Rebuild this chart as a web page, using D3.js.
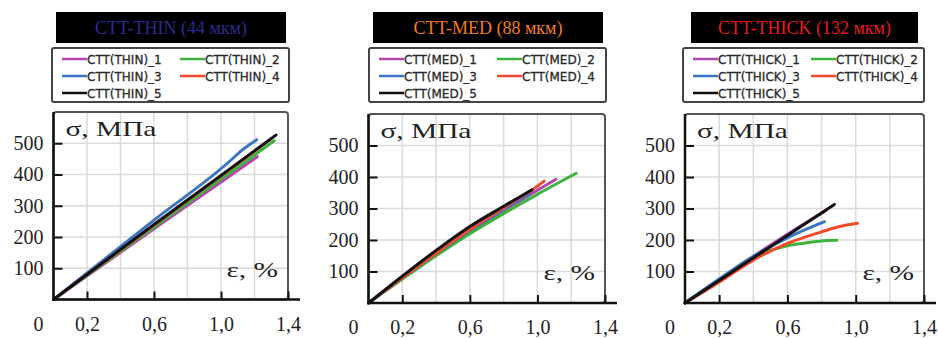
<!DOCTYPE html>
<html>
<head>
<meta charset="utf-8">
<script src="https://cdn.jsdelivr.net/npm/d3@7"></script>
<style>
  body { margin: 0; background: #fff; }
  svg { display: block; }
</style>
</head>
<body>
<div id="chart"></div>
<script>
// --- data (strain %, stress MPa) ---
const panelKeys   = ['THIN', 'MED', 'THICK'];
const panelTitles = ['CTT-THIN (44 мкм)', 'CTT-MED (88 мкм)', 'CTT-THICK (132 мкм)'];
const titleColors = ['#2b2b8f', '#f07b22', '#e8191c'];
const seriesColors = ['#b347b0', '#3cb43c', '#3a75c4', '#f24a2c', '#111111'];
const xTicks = [0.2, 0.6, 1.0, 1.4];
const yTicks = [100, 200, 300, 400, 500];
const xGrid = [0.2, 0.4, 0.6, 0.8, 1.0, 1.2];
const yGrid = [100, 200, 300, 400, 500];
const xDomain = [0, 1.4];
const yDomain = [0, 600];

const thinCurves = [
  [[0,0],[0.6,226],[1.217,457]],
  [[0,0],[0.6,232],[1.318,508]],
  [[0,0],[0.6,254],[1.08,456],[1.1,466],[1.213,511]],
  [[0,0],[0.6,238],[1.30,514]],
  [[0,0],[0.6,240],[1.328,526]]
];
const medCurves = [
  [[0,0],[0.2,78],[0.4,154],[0.6,226],[0.8,293],[1.0,358],[1.11,393]],
  [[0,0],[0.2,76],[0.4,150],[0.6,220],[0.8,284],[1.0,345],[1.23,412]],
  [[0,0],[0.2,80],[0.4,157],[0.6,230],[0.8,297],[0.95,345]],
  [[0,0],[0.2,80],[0.4,158],[0.6,233],[0.8,302],[0.95,352],[1.04,387]],
  [[0,0],[0.2,85],[0.4,167],[0.6,243],[0.8,307],[0.967,359]]
];
const thickCurves = [
  [[0,0],[0.2,74],[0.4,148],[0.6,218],[0.82,292]],
  [[0,0],[0.2,70],[0.4,144],[0.5,167],[0.6,182],[0.7,190],[0.8,197],[0.89,199]],
  [[0,0],[0.2,76],[0.4,148],[0.6,207],[0.817,258]],
  [[0,0],[0.2,66],[0.4,136],[0.6,189],[0.8,226],[0.9,242],[1.01,253]],
  [[0,0],[0.875,313]]
];
const panelCurves = [thinCurves, medCurves, thickCurves];

// --- layout (pixels) ---
const W = 938, H = 339;
const layout = [
  { left: 53.5, right: 288, top: 112, bottom: 299.5, title: [56, 286], legend: [52, 289] },
  { left: 368.5, right: 605, top: 114, bottom: 303, title: [373, 603], legend: [369, 606] },
  { left: 685, right: 924, top: 114, bottom: 303, title: [691, 918], legend: [683, 924] }
];
const serif = "'Liberation Serif', 'Times New Roman', serif";
const sans = "'DejaVu Sans', Verdana, sans-serif";
const fmt = d3.formatLocale({ decimal: ',', thousands: ' ', grouping: [3], currency: ['', ''] }).format('.1f');

const svg = d3.select('#chart').append('svg').attr('width', W).attr('height', H);

function drawPanel(i) {
  const L = layout[i];
  const g = svg.append('g').attr('class', 'panel');
  const x = d3.scaleLinear().domain(xDomain).range([L.left, L.right]);
  const y = d3.scaleLinear().domain(yDomain).range([L.bottom, L.top]);

  // title bar
  g.append('rect')
    .attr('x', L.title[0]).attr('y', 12)
    .attr('width', L.title[1] - L.title[0]).attr('height', 31)
    .attr('fill', '#000');
  g.append('text')
    .attr('x', (L.title[0] + L.title[1]) / 2).attr('y', 33.5)
    .attr('text-anchor', 'middle')
    .attr('font-family', serif).attr('font-size', 18)
    .attr('fill', titleColors[i])
    .text(panelTitles[i]);

  // legend
  g.append('rect')
    .attr('x', L.legend[0]).attr('y', 48)
    .attr('width', L.legend[1] - L.legend[0]).attr('height', 54)
    .attr('rx', 2)
    .attr('fill', '#fff').attr('stroke', '#444').attr('stroke-width', 2);
  const items = g.selectAll('g.item').data(seriesColors).enter()
    .append('g').attr('class', 'item')
    .attr('transform', (d, k) => 'translate(' +
      [L.legend[0] + 10 + (k % 2) * 118, 59 + Math.floor(k / 2) * 17] + ')');
  items.append('line')
    .attr('x1', 0).attr('x2', 25).attr('y1', 0).attr('y2', 0)
    .attr('stroke', d => d).attr('stroke-width', 2.5);
  items.append('text')
    .attr('x', 25).attr('y', 4.5)
    .attr('font-family', sans).attr('font-size', 12)
    .attr('fill', '#2a2a2a').attr('stroke', '#2a2a2a').attr('stroke-width', 0.3)
    .text((d, k) => 'CTT(' + panelKeys[i] + ')_' + (k + 1));

  // plot frame + grid
  g.append('rect')
    .attr('x', L.left).attr('y', L.top)
    .attr('width', L.right - L.left).attr('height', L.bottom - L.top)
    .attr('rx', 3)
    .attr('fill', '#fff').attr('stroke', '#555').attr('stroke-width', 2);
  g.append('g').selectAll('line').data(xGrid).enter().append('line')
    .attr('x1', d => x(d)).attr('x2', d => x(d))
    .attr('y1', L.top + 1).attr('y2', L.bottom)
    .attr('stroke', '#dadada').attr('stroke-width', 1.5);
  g.append('g').selectAll('line').data(yGrid).enter().append('line')
    .attr('x1', L.left).attr('x2', L.right - 1)
    .attr('y1', d => y(d)).attr('y2', d => y(d))
    .attr('stroke', '#dadada').attr('stroke-width', 1.5);

  // curves
  const line = d3.line().x(d => x(d[0])).y(d => y(d[1])).curve(d3.curveMonotoneX);
  g.append('g').selectAll('path').data(panelCurves[i]).enter().append('path')
    .attr('d', line)
    .attr('fill', 'none')
    .attr('stroke', (d, k) => seriesColors[k])
    .attr('stroke-width', 3)
    .attr('stroke-linecap', 'round');

  // axes
  const xa = g.append('g').attr('transform', 'translate(0,' + L.bottom + ')')
    .call(d3.axisBottom(x).tickValues(xTicks).tickFormat(fmt)
      .tickSizeInner(-8).tickSizeOuter(0).tickPadding(17));
  const ya = g.append('g').attr('transform', 'translate(' + L.left + ',0)')
    .call(d3.axisLeft(y).tickValues(yTicks).tickFormat(d3.format('d'))
      .tickSizeInner(-9).tickSizeOuter(0).tickPadding(10));
  [xa, ya].forEach(a => {
    a.select('.domain').remove();
    a.selectAll('.tick line').attr('stroke', '#111').attr('stroke-width', 2);
    a.selectAll('.tick text')
      .attr('font-family', serif).attr('font-size', 20).attr('fill', '#222');
  });
  g.append('line')
    .attr('x1', L.left).attr('x2', L.left)
    .attr('y1', L.top).attr('y2', L.bottom)
    .attr('stroke', '#111').attr('stroke-width', 2.5);
  g.append('line')
    .attr('x1', L.left - 1).attr('x2', L.right + 12)
    .attr('y1', L.bottom).attr('y2', L.bottom)
    .attr('stroke', '#111').attr('stroke-width', 2.5);
  g.append('text')
    .attr('x', L.left - 15).attr('y', L.bottom + 31)
    .attr('text-anchor', 'middle')
    .attr('font-family', serif).attr('font-size', 20).attr('fill', '#222')
    .text('0');

  // axis titles
  g.append('text')
    .attr('transform', 'translate(' + (L.left + 12) + ',' + (L.top + 24) + ') scale(1.4,1)')
    .attr('font-family', serif).attr('font-size', 21).attr('fill', '#222')
    .text('σ, МПа');
  g.append('text')
    .attr('transform', 'translate(' + (L.right - 10) + ',' + (L.bottom - 23) + ') scale(1.4,1)')
    .attr('text-anchor', 'end')
    .attr('font-family', serif).attr('font-size', 21).attr('fill', '#222')
    .text('ε, %');
}

panelKeys.forEach((k, i) => drawPanel(i));
</script>
</body>
</html>
